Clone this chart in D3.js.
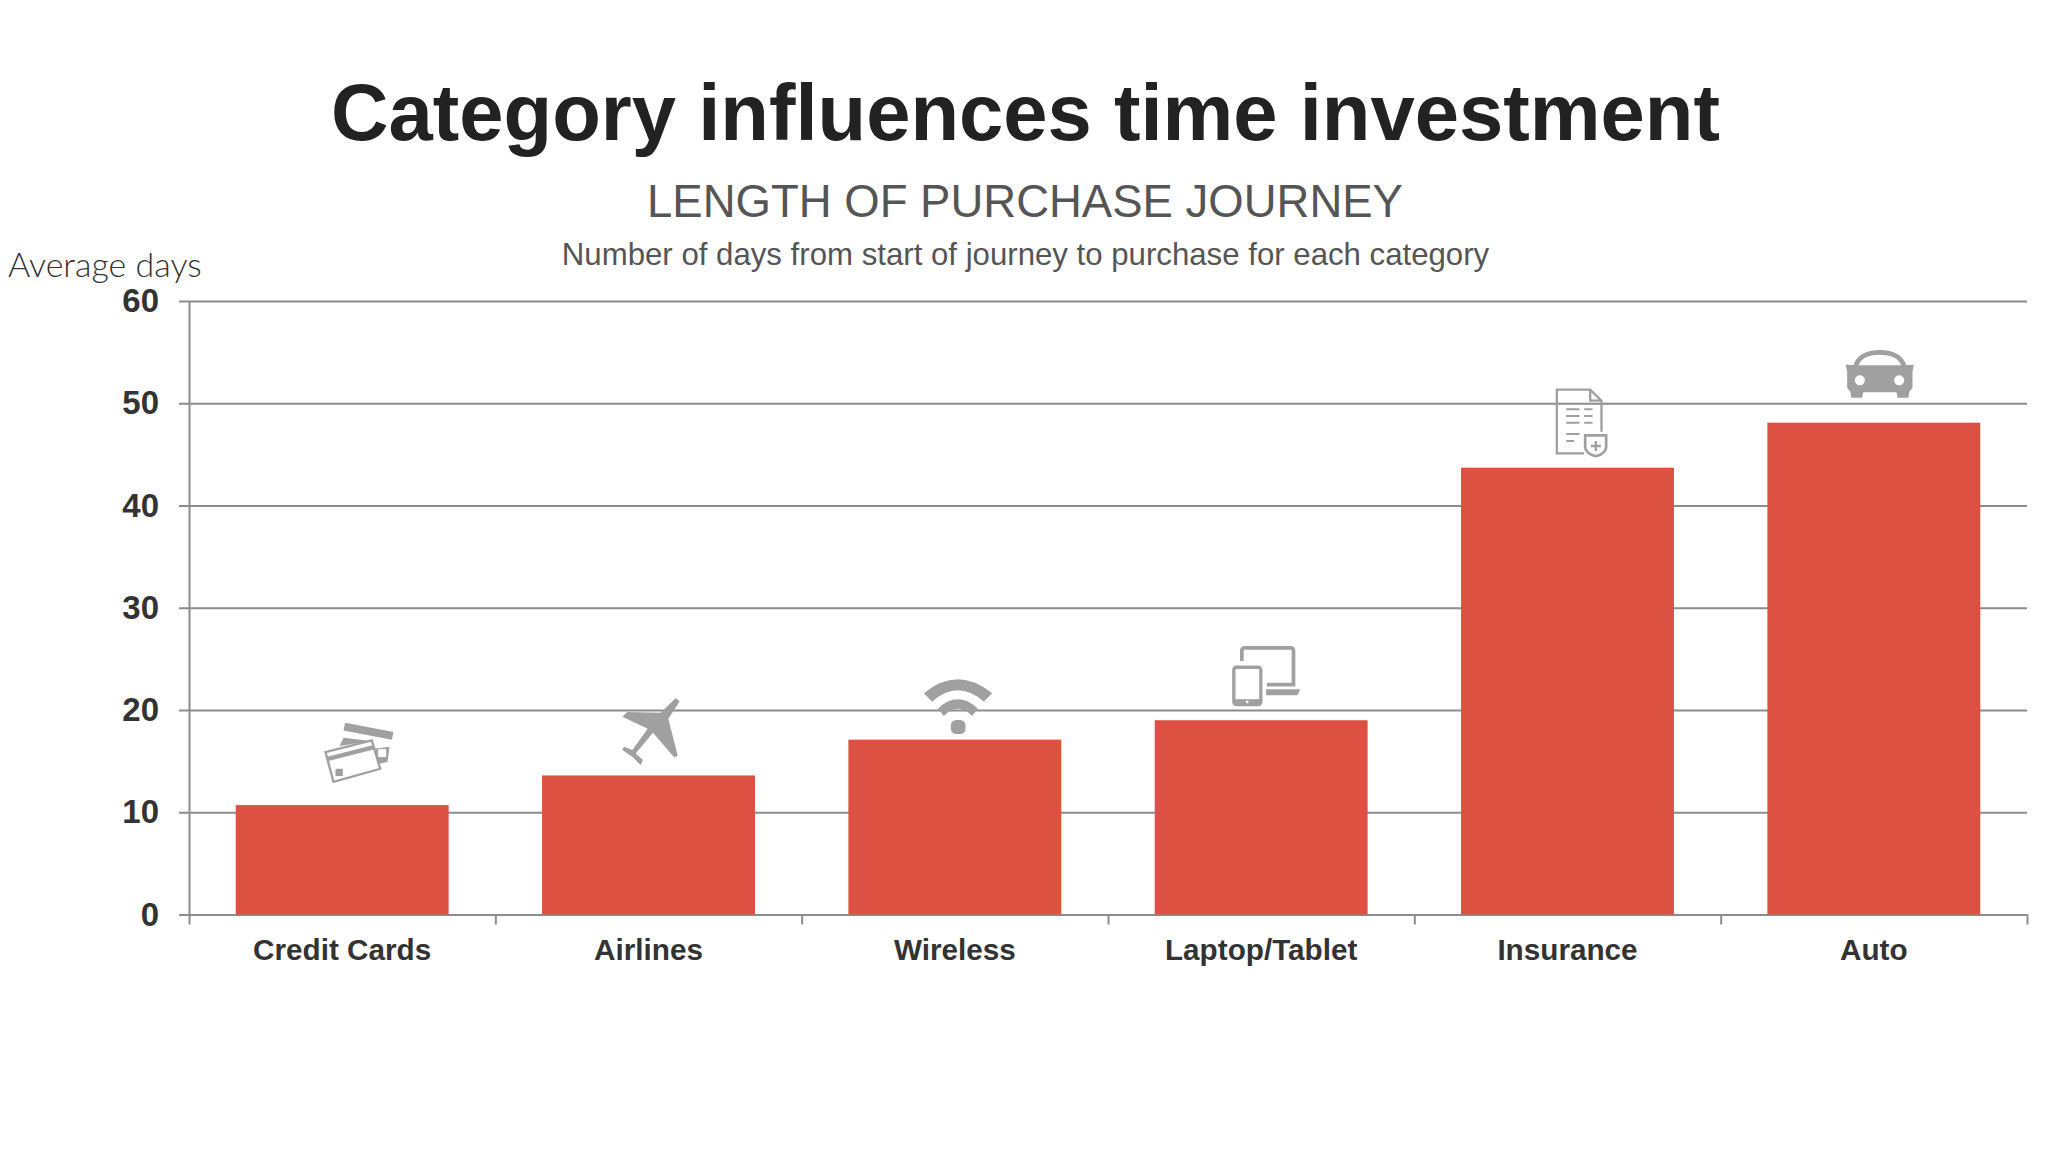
<!DOCTYPE html>
<html>
<head>
<meta charset="utf-8">
<script src="https://cdn.jsdelivr.net/npm/d3@7"></script>
<style>
    body { margin: 0; background: #fff; }
    svg text { font-family: "Liberation Sans", Arial, sans-serif; }
    .axis path.domain { stroke: #8c8c8c; stroke-width: 2px; }
    .axis line { stroke: #8c8c8c; stroke-width: 2px; }
    .axis text { fill: #333; font-weight: bold; font-family: "Liberation Sans", Arial, sans-serif; }
</style>
</head>
<body>
<div id="chart"></div>
<script>

    var categories = ["Credit Cards", "Airlines", "Wireless", "Laptop/Tablet", "Insurance", "Auto"];
    var avg_days = [10.7, 13.6, 17.1, 19.0, 43.7, 48.1];
    var y_ticks = [0, 10, 20, 30, 40, 50, 60];
    var icon_names = ["card", "plane", "wifi", "devices", "policy", "car"];

    var margin = {top: 301, right: 21, bottom: 237.5, left: 189},
        width = 2048 - margin.left - margin.right,
        height = 1152 - margin.top - margin.bottom;

    var svg = d3.select("#chart")
        .append("svg")
        .attr("width", 2048)
        .attr("height", 1152)
        .style("display", "block");

    // titles
    svg.append("text")
        .attr("x", 1025.5).attr("y", 140)
        .attr("text-anchor", "middle")
        .style("font-size", "79.6px").style("font-weight", "bold").style("fill", "#222")
        .text("Category influences time investment");

    svg.append("text")
        .attr("x", 1025).attr("y", 216.5)
        .attr("text-anchor", "middle")
        .style("font-size", "45.5px").style("fill", "#555")
        .text("LENGTH OF PURCHASE JOURNEY");

    svg.append("text")
        .attr("x", 1025.5).attr("y", 265)
        .attr("text-anchor", "middle")
        .style("font-size", "31.2px").style("fill", "#555")
        .text("Number of days from start of journey to purchase for each category");

    svg.append("text")
        .attr("x", 8).attr("y", 277)
        .style("font-family", "Lato").style("font-weight", "300")
        .style("font-size", "34px").style("fill", "#333")
        .text("Average days");

    var g = svg.append("g")
        .attr("transform", "translate(" + margin.left + "," + margin.top + ")");

    var x = d3.scaleBand()
        .domain(categories)
        .range([0, width])
        .paddingInner(0.305)
        .paddingOuter(0.1525);

    var y = d3.scaleLinear()
        .domain([0, 60])
        .range([height, 0]);

    // edges of the category slots, the ticks sit there and not on the bars
    var slot = d3.scaleLinear()
        .domain([0, categories.length])
        .range([0, width]);

    // grid lines
    g.append("g")
        .attr("class", "axis")
        .call(d3.axisLeft(y).tickValues(y_ticks).tickSize(-width).tickFormat(""))
        .select(".domain").remove();

    // Add Y axis
    g.append("g")
        .attr("class", "axis")
        .call(d3.axisLeft(y).tickValues(y_ticks).tickSizeInner(10).tickSizeOuter(0).tickPadding(20))
        .selectAll("text")
        .style("font-size", "33px");

    // Add X axis ticks
    g.append("g")
        .attr("class", "axis")
        .attr("transform", "translate(0," + height + ")")
        .call(d3.axisBottom(slot).tickValues(d3.range(categories.length + 1)).tickSizeInner(10).tickSizeOuter(0).tickFormat(""));

    // Add X axis labels
    var x_labels = g.append("g")
        .attr("class", "axis")
        .attr("transform", "translate(0," + height + ")")
        .call(d3.axisBottom(x).tickSize(0).tickPadding(24));
    x_labels.select(".domain").remove();
    x_labels.selectAll("text").style("font-size", "29.7px");

    // Add bars
    g.append("g")
        .selectAll("rect")
        .data(categories)
        .enter()
        .append("rect")
        .attr("x", function (d) { return x(d); })
        .attr("y", function (d, i) { return y(avg_days[i]); })
        .attr("width", x.bandwidth())
        .attr("height", function (d, i) { return height - y(avg_days[i]); })
        .style("fill", "#dc5142");

    // icons are drawn at 3x around their own centre, then scaled down
    var icon_color = "#a0a0a0";

    function add_shape(sel, tag, attrs) {
        var el = sel.append(tag);
        Object.keys(attrs).forEach(function (k) { el.attr(k, attrs[k]); });
        return el;
    }

    var icons = {
        card: {dx: 17, dy: -53, cx: 177, cy: 215, draw: function (s) {
            add_shape(s, "path", {d: "M135,127 L280,155 L275,178 L130,150 Z", fill: icon_color});
            add_shape(s, "path", {d: "M118,197 L130,172 L212,182 Z", fill: icon_color});
            add_shape(s, "path", {d: "M215,206 L268,199 L262,245 L236,250 Z", fill: icon_color});
            add_shape(s, "rect", {x: 234, y: 206, width: 24, height: 24, fill: "#fff"});
            add_shape(s, "path", {d: "M76,215 L215,180 L240,265 L100,304 Z", fill: "#fff", stroke: icon_color, "stroke-width": 7});
            add_shape(s, "path", {d: "M80,236 L222,200", stroke: icon_color, "stroke-width": 13, fill: "none"});
            add_shape(s, "rect", {x: 106, y: 265, width: 22, height: 22, fill: icon_color});
        }},
        plane: {dx: 2.5, dy: -44, cx: 1056, cy: 156, draw: function (s) {
            add_shape(s, "path", {d: "M1130,56 L1142,66 L1108,118 L1136,228 L1126,234 L1062,160 L1010,222 L1032,242 L1025,257 L1000,232 L970,212 L975,202 L1000,212 L1046,148 L970,112 L985,98 L1085,100 Z",
                fill: icon_color});
        }},
        wifi: {dx: 3, dy: -33, cx: 172, cy: 262, draw: function (s) {
            add_shape(s, "path", {d: "M70,222 Q172,138 275,222 L250,247 Q172,179 95,247 Z", fill: icon_color});
            add_shape(s, "path", {d: "M112,268 Q172,212 232,268 L215,290 Q172,246 130,290 Z", fill: icon_color});
            add_shape(s, "rect", {x: 151, y: 302, width: 44, height: 42, rx: 16, fill: icon_color});
        }},
        devices: {dx: 5, dy: -44, cx: 1098, cy: 168, draw: function (s) {
            add_shape(s, "path", {d: "M1025,122 L1025,92 Q1025,83 1034,83 L1170,83 Q1180,83 1180,92 L1180,193 L1100,193",
                stroke: icon_color, "stroke-width": 11, fill: "none"});
            add_shape(s, "path", {d: "M1098,207 L1200,207 L1192,225 L1098,225 Z", fill: icon_color});
            add_shape(s, "rect", {x: 1001, y: 141, width: 81, height: 112, rx: 8, stroke: icon_color, "stroke-width": 10, fill: "none"});
            add_shape(s, "rect", {x: 1001, y: 237, width: 81, height: 16, fill: icon_color});
            add_shape(s, "circle", {cx: 1041, cy: 245, r: 4, fill: "#fff"});
        }},
        policy: {dx: 14, dy: -45, cx: 154, cy: 278, draw: function (s) {
            add_shape(s, "path", {d: "M162,370 L80,370 L80,179 L180,179 L214,212 L214,305 M180,179 L180,212 L214,212",
                stroke: icon_color, "stroke-width": 7, fill: "none"});
            add_shape(s, "path", {d: "M108,238 H148 M162,238 H187 M108,258 H148 M162,258 H187 M108,278 H148 M162,278 H187 M108,312 H148 M108,333 H132",
                stroke: icon_color, "stroke-width": 6, fill: "none"});
            add_shape(s, "path", {d: "M165,316 L228,316 L228,350 Q228,370 197,379 Q165,370 165,350 Z",
                stroke: icon_color, "stroke-width": 8, fill: "#fff"});
            add_shape(s, "path", {d: "M197,333 V363 M182,348 H212", stroke: icon_color, "stroke-width": 7, fill: "none"});
        }},
        car: {dx: 6, dy: -49, cx: 1050, cy: 130, draw: function (s) {
            add_shape(s, "path", {d: "M977,108 Q990,66 1050,66 Q1110,66 1123,108", stroke: icon_color, "stroke-width": 14, fill: "none"});
            add_shape(s, "path", {d: "M975,105 L1125,105 L1152,103 L1148,124 L1148,172 L1138,185 L1136,202 L1103,202 L1100,186 L1000,186 L997,202 L964,202 L962,185 L952,172 L952,124 L947,103 Z",
                fill: icon_color});
            add_shape(s, "circle", {cx: 990, cy: 150, r: 15, fill: "#fff"});
            add_shape(s, "circle", {cx: 1108, cy: 150, r: 15, fill: "#fff"});
        }}
    };

    categories.forEach(function (cat, i) {
        var icon = icons[icon_names[i]];
        var icon_g = g.append("g")
            .attr("transform",
                "translate(" + (x(cat) + x.bandwidth() / 2 + icon.dx) + "," + (y(avg_days[i]) + icon.dy) + ")" +
                " scale(" + (1 / 3) + ")" +
                " translate(" + (-icon.cx) + "," + (-icon.cy) + ")");
        icon.draw(icon_g);
    });

</script>
</body>
</html>
